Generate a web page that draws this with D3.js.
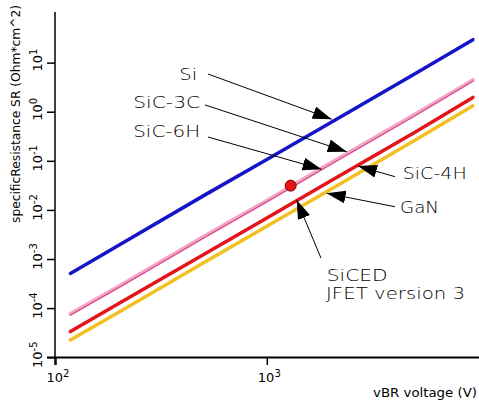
<!DOCTYPE html>
<html><head><meta charset="utf-8">
<script src="https://cdn.jsdelivr.net/npm/d3@7"></script>
<style>html,body{margin:0;padding:0;background:#fff;}svg{display:block;}</style>
</head><body>
<svg id="chart" width="479" height="403"></svg>
<script>
// ---- data ----
const voltage = [117, 200, 500, 1000, 2000, 5000, 9400];
const si      = [5.2e-4, 2.0e-3, 0.020, 0.11, 0.62, 6.1, 30];
const sic3c   = [7.8e-5, 2.9e-4, 2.9e-3, 0.016, 0.092, 0.90, 4.5];
const sic6h   = [7.4e-5, 2.75e-4, 2.75e-3, 0.0152, 0.087, 0.85, 4.3];
const sic4h   = [3.4e-5, 1.3e-4, 1.27e-3, 7.1e-3, 0.040, 0.39, 2.0];
const gan     = [2.3e-5, 8.6e-5, 8.6e-4, 4.8e-3, 0.027, 0.27, 1.35];
const sicedPoint = [1290, 0.032];
const xTickExps = [2, 3];
const yTickExps = [1, 0, -1, -2, -3, -4, -5];
// annotation: label, text anchor (V, SR), arrow tail, arrow tip
const notes = [
  {label:"Si",       text:[383, 4.48],   w:18,  tail:[524, 6.0],     tip:[2018, 0.72]},
  {label:"SiC-3C",   text:[232, 1.20],   w:67,  tail:[507, 1.41],    tip:[2377, 0.157]},
  {label:"SiC-6H",   text:[232, 0.313],  w:67,  tail:[524, 0.313],   tip:[1807, 0.0689]},
  {label:"SiC-4H",   text:[4375, 0.0431],w:64,  tail:[4018, 0.0486], tip:[2687, 0.0804]},
  {label:"GaN",      text:[4246, 0.0090],w:39,  tail:[4018, 0.0119], tip:[1910, 0.0223]},
  {label:"SiCED",    text:[1910, 3.71e-4],w:61, tail:[1795, 0.00107],tip:[1377, 0.0163]},
  {label:"JFET version 3", text:[1897, 1.55e-4], w:139, tail:null, tip:null}
];

const svg = d3.select("#chart");
const x = d3.scaleLog().domain([100, 10000]).range([56, 478.6]);
const y = d3.scaleLog().domain([1e-5, 110]).range([357.7, 12]);

// arrow marker
svg.append("defs").append("marker")
  .attr("id","ah").attr("markerUnits","userSpaceOnUse")
  .attr("viewBox","0 0 19 13").attr("refX",19).attr("refY",6.5)
  .attr("markerWidth",19).attr("markerHeight",13).attr("orient","auto")
  .append("path").attr("d","M0,0 L19,6.5 L0,13 Z").attr("fill","#000");

// axes
svg.append("line").attr("x1",55).attr("x2",55).attr("y1",12).attr("y2",365)
  .attr("stroke","#000").attr("stroke-width",1.5);
svg.append("line").attr("x1",47).attr("x2",479).attr("y1",357.5).attr("y2",357.5)
  .attr("stroke","#000").attr("stroke-width",2);

// x ticks
xTickExps.forEach(e => {
  const px = x(Math.pow(10,e));
  svg.append("line").attr("x1",px).attr("x2",px).attr("y1",357).attr("y2",365)
    .attr("stroke","#000").attr("stroke-width",1.5);
  const t = svg.append("text").attr("x",px+2).attr("y",381.5)
    .attr("text-anchor","middle").attr("font-family","DejaVu Sans").attr("font-size",13).attr("fill","#000");
  t.append("tspan").text("10");
  t.append("tspan").attr("dy",-5).attr("font-size",10).text(e);
});
// y ticks
yTickExps.forEach(e => {
  const py = y(Math.pow(10,e));
  svg.append("line").attr("x1",47).attr("x2",55).attr("y1",py).attr("y2",py)
    .attr("stroke","#000").attr("stroke-width",1.5);
  const t = svg.append("text").attr("transform",`translate(41.5,${py-3}) rotate(-90)`)
    .attr("text-anchor","middle").attr("font-family","DejaVu Sans").attr("font-size",13).attr("fill","#000");
  t.append("tspan").text("10");
  t.append("tspan").attr("dy",-5).attr("font-size",10).text(e < 0 ? "-" + (-e) : e);
});

// axis titles
svg.append("text").attr("transform","translate(19.5,223) rotate(-90)")
  .attr("font-family","DejaVu Sans").attr("font-size",12).attr("fill","#000")
  .attr("textLength",218).attr("lengthAdjust","spacingAndGlyphs")
  .text("specificResistance SR (Ohm*cm^2)");
svg.append("text").attr("x",373).attr("y",397)
  .attr("font-family","DejaVu Sans").attr("font-size",12).attr("fill","#000")
  .attr("textLength",104).attr("lengthAdjust","spacingAndGlyphs")
  .text("vBR voltage (V)");

// series lines
const line = d3.line().x(d => x(d[0])).y(d => y(d[1]));
const series = [
  {v: gan,   color:"#f2c022", w:3.5},
  {v: sic4h, color:"#e3141a", w:3.5},
  {v: sic3c, color:"#f4a4c2", w:4},
  {v: sic6h, color:"#c8388e", w:1},
  {v: si,    color:"#1414c8", w:3.5}
];
series.forEach(s => {
  svg.append("path").attr("d", line(voltage.map((v,i)=>[v, s.v[i]])))
    .attr("fill","none").attr("stroke",s.color).attr("stroke-width",s.w)
    .attr("stroke-linecap","round");
});

// SiCED point
svg.append("circle").attr("cx",x(sicedPoint[0])).attr("cy",y(sicedPoint[1])).attr("r",5.5)
  .attr("fill","#e81414").attr("stroke","#700").attr("stroke-width",1);

// annotations
notes.forEach(n => {
  if (n.tail) {
    svg.append("line").attr("x1",x(n.tail[0])).attr("y1",y(n.tail[1]))
      .attr("x2",x(n.tip[0])).attr("y2",y(n.tip[1]))
      .attr("stroke","#000").attr("stroke-width",1).attr("marker-end","url(#ah)");
  }
  svg.append("text").attr("x",x(n.text[0])).attr("y",y(n.text[1]))
    .attr("font-family","'DejaVu Sans', sans-serif").attr("font-weight",200)
    .attr("font-size",15).attr("fill","#000")
    .attr("textLength",n.w).attr("lengthAdjust","spacingAndGlyphs")
    .text(n.label);
});
</script>
</body></html>
